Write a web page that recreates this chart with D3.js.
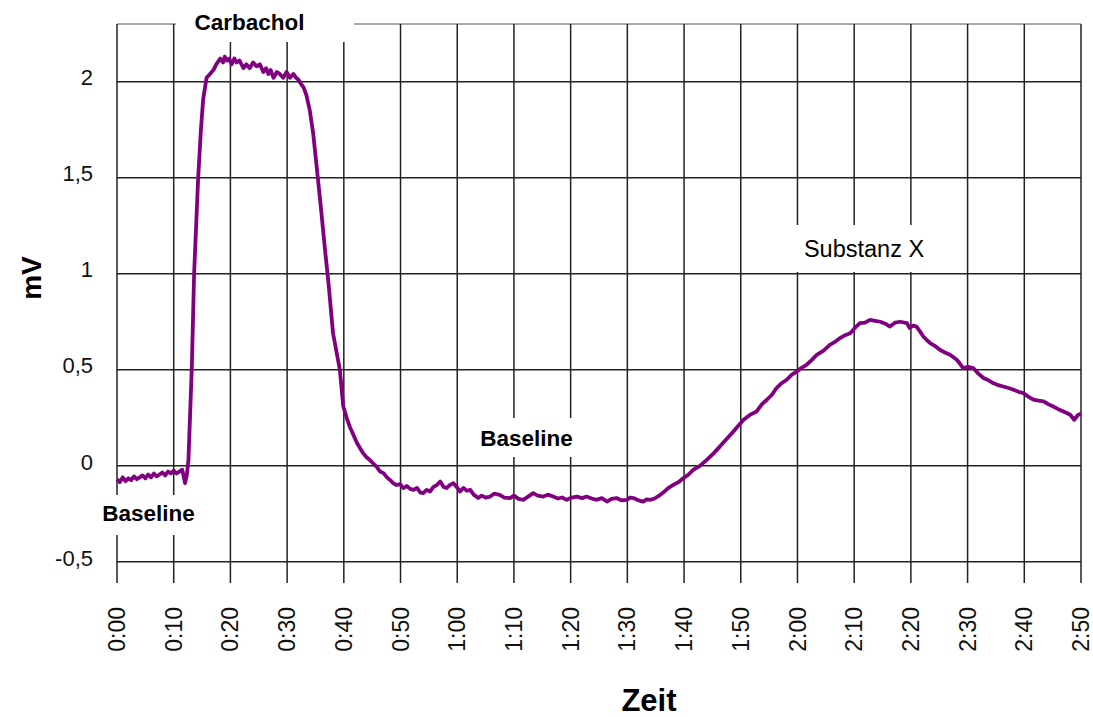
<!DOCTYPE html>
<html>
<head>
<meta charset="utf-8">
<script src="https://cdn.jsdelivr.net/npm/d3@7"></script>
<style>
  body { margin: 0; background: #fff; }
  svg { display: block; }
</style>
</head>
<body>
<svg id="chart"></svg>
<script>
// recording, [seconds, mV]
var trace = [
  [0, -0.07], [0.5, -0.085], [1, -0.06], [1.5, -0.08], [2, -0.065], [2.5, -0.075],
  [3, -0.055], [3.5, -0.07], [4, -0.06], [4.5, -0.05], [5, -0.065], [5.5, -0.045],
  [6, -0.06], [6.5, -0.04], [7, -0.055], [7.5, -0.045], [8, -0.035], [8.5, -0.05],
  [9, -0.03], [9.5, -0.04], [10, -0.025], [10.5, -0.04], [11, -0.03], [11.5, -0.02],
  [11.8, -0.06], [12.0, -0.09], [12.3, -0.05], [12.6, 0.03], [13.2, 0.52], [13.6, 1.0],
  [14.3, 1.49], [14.8, 1.75], [15.2, 1.91], [15.8, 2.02], [16.4, 2.04], [17.0, 2.06],
  [17.5, 2.09], [18.2, 2.12], [18.7, 2.10], [19.0, 2.13], [19.4, 2.11], [19.8, 2.12],
  [20.2, 2.09], [20.7, 2.12], [21.1, 2.10], [21.6, 2.11], [22.3, 2.07], [22.8, 2.09],
  [23.4, 2.07], [24.0, 2.10], [24.6, 2.08], [25.2, 2.09], [25.8, 2.05], [26.3, 2.07],
  [26.7, 2.04], [27.1, 2.06], [27.6, 2.02], [28.2, 2.05], [28.7, 2.04], [29.3, 2.02],
  [29.9, 2.05], [30.5, 2.02], [31.1, 2.04], [31.6, 2.02], [32.0, 2.01], [32.4, 1.99],
  [32.9, 1.97], [33.4, 1.93], [34.0, 1.85], [34.6, 1.73], [35.2, 1.56], [35.8, 1.39],
  [36.7, 1.12], [37.3, 0.95], [38.1, 0.69], [39.3, 0.50], [39.9, 0.31], [40.5, 0.25],
  [41.1, 0.2], [41.7, 0.16], [42.3, 0.12], [42.9, 0.09], [43.4, 0.066], [44.0, 0.045],
  [44.6, 0.03], [45.2, 0.012], [45.8, -0.005], [46.4, -0.03], [47.0, -0.038], [47.6, -0.06],
  [48.2, -0.075], [48.7, -0.09], [49.3, -0.1], [49.9, -0.095], [50.5, -0.116], [51.1, -0.105],
  [51.7, -0.12], [52.3, -0.125], [52.9, -0.115], [53.5, -0.14], [54.0, -0.142], [54.6, -0.125],
  [55.2, -0.134], [55.8, -0.11], [56.4, -0.1], [57.0, -0.082], [57.6, -0.11], [58.1, -0.116],
  [58.7, -0.1], [59.3, -0.09], [59.9, -0.11], [60.5, -0.134], [61.1, -0.115], [61.7, -0.13],
  [62.3, -0.125], [62.9, -0.15], [63.7, -0.168], [64.3, -0.155], [65.0, -0.165], [65.8, -0.16],
  [66.5, -0.145], [67.5, -0.151], [68.3, -0.165], [69.3, -0.168], [70.0, -0.155], [70.8, -0.172],
  [71.7, -0.177], [72.5, -0.16], [73.4, -0.142], [74.2, -0.155], [75.2, -0.16], [76.0, -0.15],
  [76.9, -0.16], [77.8, -0.17], [78.5, -0.165], [79.3, -0.177], [80.2, -0.165], [81.1, -0.16],
  [82.0, -0.168], [82.8, -0.16], [83.7, -0.17], [84.6, -0.177], [85.5, -0.168], [86.4, -0.186],
  [87.2, -0.172], [88.1, -0.168], [89.0, -0.18], [89.9, -0.177], [90.5, -0.165], [91.1, -0.168],
  [92.0, -0.18], [92.8, -0.186], [93.4, -0.175], [94.0, -0.177], [94.8, -0.17], [95.8, -0.151],
  [96.5, -0.135], [97.2, -0.116], [98.1, -0.099], [99.0, -0.085], [99.9, -0.064], [100.8, -0.045],
  [101.6, -0.021], [102.8, 0.0], [104.0, 0.031], [105.2, 0.065], [106.3, 0.1], [107.5, 0.14],
  [108.7, 0.179], [109.6, 0.21], [110.5, 0.24], [111.6, 0.265], [112.8, 0.283], [113.7, 0.32],
  [114.6, 0.344], [115.5, 0.37], [116.3, 0.405], [117.2, 0.43], [118.1, 0.448], [119.0, 0.475],
  [119.9, 0.491], [120.7, 0.51], [121.6, 0.526], [122.5, 0.55], [123.4, 0.578], [124.6, 0.6],
  [125.7, 0.63], [126.6, 0.645], [127.5, 0.665], [128.4, 0.68], [129.3, 0.69], [130.2, 0.72],
  [131.0, 0.743], [131.9, 0.745], [132.8, 0.76], [133.7, 0.755], [134.6, 0.75], [135.5, 0.74],
  [136.3, 0.725], [137.2, 0.745], [138.1, 0.75], [139.3, 0.743], [139.8, 0.717], [140.4, 0.73],
  [141.0, 0.725], [141.6, 0.70], [142.2, 0.673], [142.8, 0.655], [143.4, 0.639], [144.2, 0.625],
  [145.1, 0.604], [146.0, 0.59], [146.9, 0.578], [147.5, 0.565], [148.1, 0.552], [148.7, 0.53],
  [149.2, 0.509], [150.1, 0.515], [151.0, 0.509], [151.9, 0.48], [152.8, 0.457], [153.7, 0.445],
  [154.5, 0.431], [155.4, 0.42], [156.3, 0.413], [157.2, 0.405], [158.1, 0.396], [159.0, 0.385],
  [159.8, 0.379], [160.7, 0.36], [161.6, 0.344], [162.5, 0.34], [163.4, 0.335], [164.3, 0.32],
  [165.1, 0.309], [166.0, 0.295], [166.9, 0.283], [167.5, 0.275], [168.1, 0.266], [168.8, 0.24],
  [169.5, 0.266], [170.0, 0.27]
];

var xTickSeconds = d3.range(0, 171, 10);
var xTickLabels = ["0:00", "0:10", "0:20", "0:30", "0:40", "0:50", "1:00", "1:10", "1:20",
  "1:30", "1:40", "1:50", "2:00", "2:10", "2:20", "2:30", "2:40", "2:50"];
var yTicks = [-0.5, 0, 0.5, 1, 1.5, 2];
var yTickLabels = ["-0,5", "0", "0,5", "1", "1,5", "2"];

var noteTexts = ["Carbachol", "Baseline", "Baseline", "Substanz X"];
var noteBold = [true, true, true, false];

var width = 1093, height = 717;
var plot = { left: 117, right: 1081, top: 24, bottom: 583 };

var x = d3.scaleLinear().domain([0, 170]).range([plot.left, plot.right]);
var y = d3.scaleLinear().domain([-0.61, 2.3]).range([plot.bottom, plot.top]);

var font = "Arial, 'Liberation Sans', Helvetica, sans-serif";

var svg = d3.select("#chart").attr("width", width).attr("height", height);

var grid = svg.append("g");

// top border (lighter)
grid.append("line")
  .attr("x1", plot.left).attr("x2", plot.right)
  .attr("y1", plot.top).attr("y2", plot.top)
  .style("stroke", "#8a8a8a").style("stroke-width", 1.5);

// vertical grid lines, one per 10 s
grid.selectAll(".vgrid")
  .data(xTickSeconds)
  .enter()
  .append("line")
  .attr("class", "vgrid")
  .attr("x1", d => x(d)).attr("x2", d => x(d))
  .attr("y1", plot.top).attr("y2", plot.bottom)
  .style("stroke", "#222").style("stroke-width", 1.5);

// horizontal grid lines
grid.selectAll(".hgrid")
  .data(yTicks)
  .enter()
  .append("line")
  .attr("class", "hgrid")
  .attr("x1", plot.left).attr("x2", plot.right)
  .attr("y1", d => y(d)).attr("y2", d => y(d))
  .style("stroke", "#222").style("stroke-width", 1.5);

// y tick labels
svg.selectAll(".ylab")
  .data(yTicks)
  .enter()
  .append("text")
  .attr("class", "ylab")
  .attr("x", 93)
  .attr("y", d => y(d) - 4)
  .attr("dy", "0.35em")
  .attr("text-anchor", "end")
  .style("font-family", font)
  .style("font-size", "22px")
  .style("fill", "#111")
  .text((d, i) => yTickLabels[i]);

// x tick labels, rotated
svg.selectAll(".xlab")
  .data(xTickSeconds)
  .enter()
  .append("text")
  .attr("class", "xlab")
  .attr("transform", d => "translate(" + x(d) + ",607) rotate(-90)")
  .attr("dy", "0.35em")
  .attr("text-anchor", "end")
  .style("font-family", font)
  .style("font-size", "23px")
  .style("fill", "#111")
  .text((d, i) => xTickLabels[i]);

// the trace
var line = d3.line()
  .x(d => x(d[0]))
  .y(d => y(d[1]));

svg.append("path")
  .datum(trace)
  .attr("d", line)
  .style("fill", "none")
  .style("stroke", "#800080")
  .style("stroke-width", 3.8)
  .style("stroke-linejoin", "round");

// annotation boxes (white background covers the grid)
var boxes = [
  { x0: 176, x1: 354, y0: 0, y1: 42, tx: 249.5, ty: 30 },
  { x0: 100, x1: 197, y0: 495, y1: 535, tx: 148.5, ty: 521 },
  { x0: 470, x1: 585, y0: 418, y1: 457, tx: 526.5, ty: 446 },
  { x0: 788, x1: 940, y0: 225, y1: 272, tx: 864, ty: 257 }
];
var notes = svg.append("g");
boxes.forEach(function(b, i) {
  notes.append("rect")
    .attr("x", b.x0).attr("y", b.y0)
    .attr("width", b.x1 - b.x0).attr("height", b.y1 - b.y0)
    .style("fill", "#fff");
  notes.append("text")
    .attr("x", b.tx).attr("y", b.ty)
    .attr("text-anchor", "middle")
    .style("font-family", font)
    .style("font-size", noteBold[i] ? "22.5px" : "23.5px")
    .style("font-weight", noteBold[i] ? "bold" : "normal")
    .style("fill", "#000")
    .text(noteTexts[i]);
});

// axis titles
svg.append("text")
  .attr("transform", "translate(41,278) rotate(-90)")
  .attr("text-anchor", "middle")
  .style("font-family", font)
  .style("font-size", "28px")
  .style("font-weight", "bold")
  .text("mV");

svg.append("text")
  .attr("x", 649).attr("y", 711)
  .attr("text-anchor", "middle")
  .style("font-family", font)
  .style("font-size", "31px")
  .style("font-weight", "bold")
  .text("Zeit");
</script>
</body>
</html>
